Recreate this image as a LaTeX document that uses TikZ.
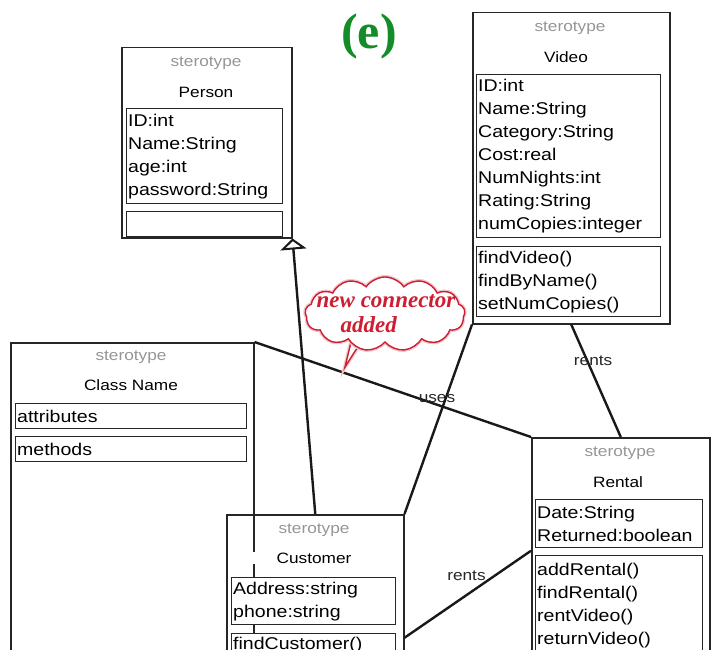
\documentclass[tikz,border=0pt]{standalone}
\usepackage{fontspec}
\setmainfont{Liberation Sans}[FakeStretch=1.15]
\newfontfamily\notefont{Liberation Serif}
\usetikzlibrary{arrows.meta}
\usetikzlibrary{shapes.symbols}

\definecolor{stereoGray}{RGB}{150,150,150}
\definecolor{noteRed}{RGB}{205,30,50}
\definecolor{tagGreen}{RGB}{20,140,40}

\tikzstyle{cls}=[draw=black!85, line width=1.5pt, anchor=north west, inner sep=0pt]
\tikzstyle{part}=[draw=black!85, line width=1.3pt, fill=white, anchor=north west, inner xsep=1.5pt, inner ysep=0pt, align=left, font=\fontsize{17}{23}\selectfont]
\tikzstyle{stereo}=[text=stereoGray, inner sep=1pt, font=\fontsize{15}{18}\selectfont]
\tikzstyle{cname}=[fill=white, inner sep=1pt, font=\fontsize{15}{18}\selectfont]
\tikzstyle{assoc}=[draw=black!90, line width=2.4pt]
\tikzstyle{assocLabel}=[inner sep=1pt, text=black!85, font=\fontsize{15}{18}\selectfont]
\tikzstyle{inherit}=[draw=black!90, line width=2.4pt, -{Triangle[open, length=11pt, width=26pt, line width=2pt]}]
\tikzstyle{noteLine}=[draw=noteRed, line width=1.4pt, preaction={draw=noteRed!25, line width=4pt}]
\tikzstyle{noteCloud}=[cloud, cloud puffs=13, cloud puff arc=110, cloud ignores aspect, minimum width=160pt, minimum height=74pt, noteLine, fill=white]
\tikzstyle{noteText}=[text=noteRed, align=left, inner sep=0pt, font=\notefont\bfseries\itshape\fontsize{23}{25}\selectfont]

\begin{document}
\begin{tikzpicture}[x=1pt, y=-1pt]
	\useasboundingbox (0,0) rectangle (712,650);
	\clip (0,0) rectangle (712,650);
	%
	\draw (10,342) node[cls, minimum width=243pt, minimum height=330pt] (cn) {};
	\draw (131,357) node[stereo] (cnS) {sterotype};
	\draw (131,385) node[cname, minimum width=236pt] (cnN) {Class Name};
	\draw (15,403) node[part, text width=228pt, minimum height=25pt] (cnA) {attributes};
	\draw (15,436) node[part, text width=228pt, minimum height=25pt] (cnM) {methods};
	%
	\draw (121,47) node[cls, minimum width=170pt, minimum height=190pt] (person) {};
	\draw (206,63) node[stereo] (personS) {sterotype};
	\draw (206,92) node[cname] (personN) {Person};
	\draw (126,108) node[part, text width=153pt, minimum height=95pt] (personA) {ID:int\\Name:String\\age:int\\password:String};
	\draw (126,211) node[part, text width=153pt, minimum height=25pt] (personM) {};
	%
	\draw (472,12) node[cls, minimum width=197pt, minimum height=311pt] (video) {};
	\draw (570,28) node[stereo] (videoS) {sterotype};
	\draw (566,57) node[cname] (videoN) {Video};
	\draw (476,74) node[part, text width=181pt, minimum height=163pt] (videoA) {ID:int\\Name:String\\Category:String\\Cost:real\\NumNights:int\\Rating:String\\numCopies:integer};
	\draw (476,246) node[part, text width=181pt, minimum height=70pt] (videoM) {findVideo()\\findByName()\\setNumCopies()};
	%
	\draw (531,437) node[cls, minimum width=178pt, minimum height=226pt] (rental) {};
	\draw (620,453) node[stereo] (rentalS) {sterotype};
	\draw (618,482) node[cname] (rentalN) {Rental};
	\draw (535,499) node[part, text width=164pt, minimum height=48pt] (rentalA) {Date:String\\Returned:boolean};
	\draw (535,555) node[part, text width=164pt, minimum height=100pt] (rentalM) {addRental()\\findRental()\\rentVideo()\\returnVideo()};
	%
	\draw (226,514) node[cls, minimum width=177pt, minimum height=246pt] (customer) {};
	\draw (314,530) node[stereo] (customerS) {sterotype};
	\draw (314,558) node[cname, minimum width=156pt] (customerN) {Customer};
	\draw (231,577) node[part, text width=161pt, minimum height=47pt] (customerA) {Address:string\\phone:string};
	\draw (231,633) node[part, text width=161pt, minimum height=22pt] (customerM) {findCustomer()};
	%
	\draw[assoc] (cn.north east) -- (rental.north west) node[assocLabel, pos=0.66, yshift=6pt] {uses};
	\draw[assoc] (video.south) -- (rental.north) node[assocLabel, pos=0.32, xshift=6pt] {rents};
	\draw[assoc] (customer.east) -- (rental.west) node[assocLabel, pos=0.49, yshift=19pt] {rents};
	\draw[assoc] (customer.north east) -- (video.south west);
	\draw[inherit] (customer.north) -- (person.south east);
	%
	\coordinate (tailL) at (353,334);
	\coordinate (tailR) at (366,334);
	\coordinate (tip) at (345,367);
	\draw[noteLine, fill=white] (tailL) -- (tip) -- (tailR);
	\node[noteCloud] (note) at (385,314) {};
	\node[noteText] (noteT) at (386,314) {new connector\\\hspace*{24pt}added};
	%
	\node[text=tagGreen, font=\notefont\bfseries\fontsize{50}{50}\selectfont] (tag) at (369,36) {(e)};
\end{tikzpicture}
\end{document}
